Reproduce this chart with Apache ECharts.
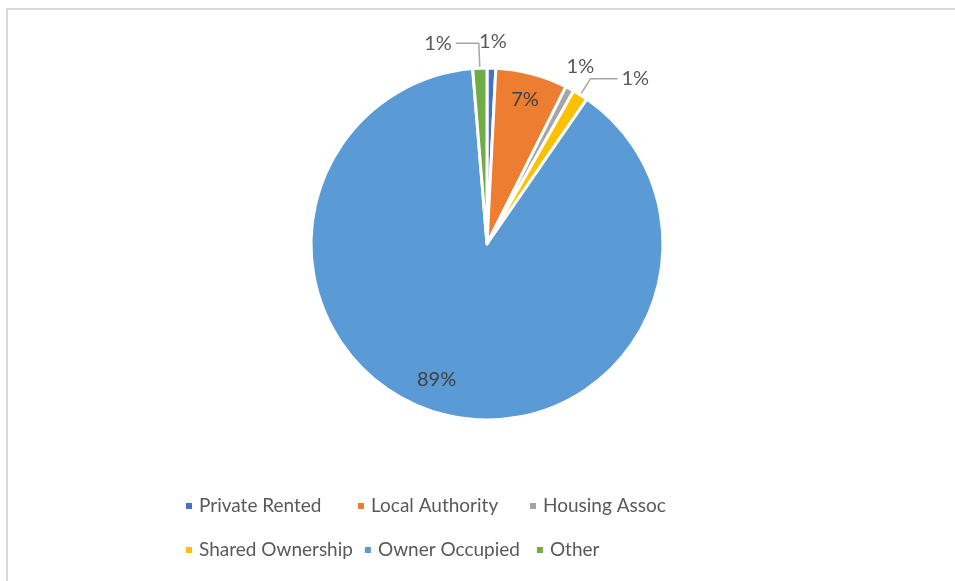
<!DOCTYPE html>
<html>
<head>
<meta charset="utf-8">
<script src="https://cdn.jsdelivr.net/npm/echarts@6/dist/echarts.min.js"></script>
<style>
  html, body { margin: 0; padding: 0; background: #fff; }
  #frame {
    position: absolute; left: 6px; top: 8px; right: 0; bottom: 0;
    border-left: 2px solid #d9d9d9; border-top: 2px solid #d9d9d9;
  }
  #chart { position: absolute; left: 0; top: 0; width: 955px; height: 581px; }
</style>
</head>
<body>
<div id="frame"></div>
<div id="chart"></div>
<script>
const tenures = ['Private Rented', 'Local Authority', 'Housing Assoc', 'Shared Ownership', 'Owner Occupied', 'Other'];
const shares = [0.8, 6.6, 0.8, 1.4, 89.1, 1.3];
const colors = ['#4472C4', '#ED7D31', '#A5A5A5', '#FFC000', '#5B9BD5', '#70AD47'];
// which slices get their label inside the slice
const insideLabel = [false, true, false, false, true, false];
const showLeader = [false, false, false, true, false, true];
// leader line lengths for the outside labels (radial part, horizontal part)
const leadLen = [27, 0, 25, 19, 0, 25];
const leadLen2 = [-17, 0, -19, 27, 0, 23];

const chart = echarts.init(document.getElementById('chart'));

const pct = p => Math.round(p.percent) + '%';
const font = 'Lato, "Open Sans", sans-serif';

// main slices, outside labels only
const sliceData = tenures.map((name, i) => ({
  name: name,
  value: shares[i],
  itemStyle: { color: colors[i] },
  label: { show: !insideLabel[i] },
  labelLine: {
    show: showLeader[i],
    length: leadLen[i],
    length2: leadLen2[i]
  }
}));

// transparent ring on the outer part, only used to place the inside labels further out
const ringData = tenures.map((name, i) => ({
  name: name,
  value: shares[i],
  label: { show: insideLabel[i] }
}));

const option = {
  animation: false,
  legend: {
    data: tenures,
    left: 184,
    top: 489,
    width: 540,
    padding: 0,
    itemWidth: 8,
    itemHeight: 8,
    itemGap: 10,
    icon: 'rect',
    textStyle: {
      fontFamily: font,
      fontSize: 19,
      color: '#595959',
      width: 147,
      lineHeight: 34,
      padding: [0, 0, 0, 1]
    }
  },
  series: [
    {
      type: 'pie',
      center: [487, 244],
      radius: [0, 176],
      startAngle: 90,
      clockwise: true,
      avoidLabelOverlap: false,
      itemStyle: { borderColor: '#fff', borderWidth: 3 },
      label: {
        position: 'outside',
        formatter: pct,
        fontFamily: font,
        fontSize: 20,
        color: '#595959',
        distanceToLabelLine: 4
      },
      labelLine: {
        lineStyle: { color: '#A6A6A6', width: 1.5 }
      },
      labelLayout: { hideOverlap: false },
      data: sliceData
    },
    {
      type: 'pie',
      silent: true,
      center: [487, 244],
      radius: [116, 176],
      startAngle: 90,
      clockwise: true,
      itemStyle: { color: 'rgba(0,0,0,0)' },
      label: {
        position: 'inside',
        formatter: pct,
        fontFamily: font,
        fontSize: 20,
        color: '#404040'
      },
      labelLine: { show: false },
      // the big slice's label sits a little further round, as in the original
      labelLayout: p => (p.dataIndex === 4 ? { dx: -12, dy: -8 } : {}),
      data: ringData
    }
  ]
};

chart.setOption(option);
</script>
</body>
</html>
